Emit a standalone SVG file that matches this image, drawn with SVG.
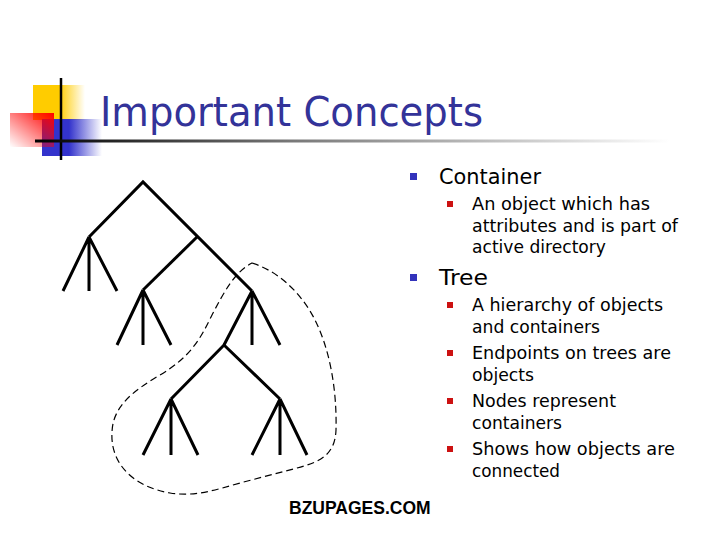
<svg xmlns="http://www.w3.org/2000/svg" width="720" height="540" viewBox="0 0 720 540">
<defs>
<linearGradient id="gY" x1="0" y1="0" x2="1" y2="0">
<stop offset="0" stop-color="#FFCC00"/><stop offset="0.5" stop-color="#FFCC00"/><stop offset="1" stop-color="#FFCC00" stop-opacity="0"/>
</linearGradient>
<linearGradient id="gR" x1="1" y1="0" x2="0" y2="1">
<stop offset="0" stop-color="#FF0000"/><stop offset="1" stop-color="#FF0000" stop-opacity="0"/>
</linearGradient>
<linearGradient id="gB" x1="0" y1="0" x2="1" y2="0">
<stop offset="0" stop-color="#3333CC"/><stop offset="0.45" stop-color="#3333CC"/><stop offset="1" stop-color="#3333CC" stop-opacity="0"/>
</linearGradient>
<linearGradient id="gL" gradientUnits="userSpaceOnUse" x1="35" y1="0" x2="670" y2="0">
<stop offset="0" stop-color="#000000"/><stop offset="0.4" stop-color="#777777"/><stop offset="1" stop-color="#FFFFFF"/>
</linearGradient>
</defs>
<style>
.title{font-family:"DejaVu Sans",Verdana,sans-serif;font-size:41px;fill:#333399}
.l1{font-family:"DejaVu Sans",Verdana,sans-serif;font-size:22px;fill:#000}
.l2{font-family:"DejaVu Sans",Verdana,sans-serif;font-size:18px;fill:#000}
.b1{fill:#3333BB}
.b2{fill:#CC1111}
.tree{fill:none;stroke:#000;stroke-width:3;stroke-linecap:butt;stroke-linejoin:miter}
.dash{fill:none;stroke:#000;stroke-width:1.2;stroke-dasharray:7 4}
.wm{font-family:"Liberation Sans",Arial,sans-serif;font-weight:bold;font-size:17.5px;fill:#000}
</style>
<rect width="720" height="540" fill="#fff"/>
<g id="logo">
<rect x="33" y="85" width="52" height="35" fill="url(#gY)"/>
<rect x="42" y="119" width="60" height="37" fill="url(#gB)"/>
<rect x="10" y="113" width="44" height="34" fill="url(#gR)"/>
<line x1="61" y1="78" x2="61" y2="160" stroke="#000" stroke-width="2.5"/>
<line x1="35" y1="141" x2="670" y2="141" stroke="url(#gL)" stroke-width="3"/>
</g>
<g id="title">
<text class="title" x="100" y="126" textLength="383" lengthAdjust="spacingAndGlyphs">Important Concepts</text>
</g>
<g id="bullets">
<g id="container">
<rect class="b1" x="410" y="173" width="7" height="7"/>
<text class="l1" x="439" y="184" textLength="102" lengthAdjust="spacingAndGlyphs">Container</text>
<rect class="b2" x="447" y="201" width="6" height="6"/>
<text class="l2" x="472" y="210" textLength="178" lengthAdjust="spacingAndGlyphs">An object which has</text>
<text class="l2" x="472" y="232" textLength="206" lengthAdjust="spacingAndGlyphs">attributes and is part of</text>
<text class="l2" x="472" y="253" textLength="134" lengthAdjust="spacingAndGlyphs">active directory</text>
</g>
<g id="treeitem">
<rect class="b1" x="410" y="274" width="7" height="7"/>
<text class="l1" x="439" y="285" textLength="49" lengthAdjust="spacingAndGlyphs">Tree</text>
<rect class="b2" x="447" y="302" width="6" height="6"/>
<text class="l2" x="472" y="311" textLength="191" lengthAdjust="spacingAndGlyphs">A hierarchy of objects</text>
<text class="l2" x="472" y="333" textLength="128" lengthAdjust="spacingAndGlyphs">and containers</text>
<rect class="b2" x="447" y="350" width="6" height="6"/>
<text class="l2" x="472" y="359" textLength="199" lengthAdjust="spacingAndGlyphs">Endpoints on trees are</text>
<text class="l2" x="472" y="381" textLength="62" lengthAdjust="spacingAndGlyphs">objects</text>
<rect class="b2" x="447" y="398" width="6" height="6"/>
<text class="l2" x="472" y="407" textLength="144" lengthAdjust="spacingAndGlyphs">Nodes represent</text>
<text class="l2" x="472" y="429" textLength="90" lengthAdjust="spacingAndGlyphs">containers</text>
<rect class="b2" x="447" y="446" width="6" height="6"/>
<text class="l2" x="472" y="455" textLength="203" lengthAdjust="spacingAndGlyphs">Shows how objects are</text>
<text class="l2" x="472" y="477" textLength="88" lengthAdjust="spacingAndGlyphs">connected</text>
</g>
</g>
<g id="connectors">
<polyline class="tree" points="89,237 143,182 252,291"/>
<path class="tree" d="M89,237 L63,291 M89,237 L89,291 M89,237 L117,291"/>
<polyline class="tree" points="197,237 143,290"/>
<path class="tree" d="M143,290 L117,345 M143,290 L143,345 M143,290 L171,345"/>
<path class="tree" d="M252,291 L252,345 M252,291 L280,345 M252,291 L224,345"/>
<polyline class="tree" points="171,399 224,345 280,399"/>
<path class="tree" d="M171,399 L143,455 M171,399 L171,455 M171,399 L198,455"/>
<path class="tree" d="M280,399 L252,455 M280,399 L280,455 M280,399 L307,455"/>
<path class="dash" d="M252,263 C275,270 300,290 315,320 C330,350 337,390 336,430 C335,455 320,462 297,468 L240,483 C215,490 195,497 170,493 C135,487 110,465 112,432 C113,405 135,390 160,375 C190,357 200,340 212,315 C225,290 235,272 252,263 Z"/>
</g>
<g id="watermark">
<text class="wm" x="289" y="514">BZUPAGES.COM</text>
</g>
</svg>
